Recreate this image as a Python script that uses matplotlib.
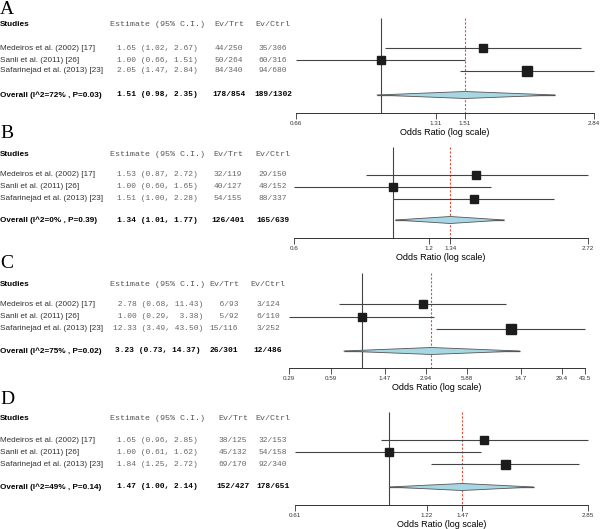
import matplotlib
matplotlib.use("Agg")
import matplotlib.pyplot as plt
from matplotlib.ticker import NullLocator

# --- data ---
studies = ["Medeiros et al. (2002) [17]", "Sanli et al. (2011) [26]", "Safarinejad et al. (2013) [23]"]

a_est = [1.65, 1.00, 2.05]
a_lo = [1.02, 0.66, 1.47]
a_hi = [2.67, 1.51, 2.84]
a_trt = ["44/250", "50/264", "84/340"]
a_ctrl = ["35/306", "60/316", "94/680"]
a_overall = [1.51, 0.98, 2.35]
a_overall_ev = ["178/854", "189/1302"]
a_het = "Overall (I^2=72% , P=0.03)"
a_ticks = [0.66, 1.31, 1.51, 2.84]

b_est = [1.53, 1.00, 1.51]
b_lo = [0.87, 0.60, 1.00]
b_hi = [2.72, 1.65, 2.28]
b_trt = ["32/119", "40/127", "54/155"]
b_ctrl = ["29/150", "48/152", "88/337"]
b_overall = [1.34, 1.01, 1.77]
b_overall_ev = ["126/401", "165/639"]
b_het = "Overall (I^2=0% , P=0.39)"
b_ticks = [0.6, 1.2, 1.34, 2.72]

c_est = [2.78, 1.00, 12.33]
c_lo = [0.68, 0.29, 3.49]
c_hi = [11.43, 3.38, 43.50]
c_trt = ["6/93", "5/92", "15/116"]
c_ctrl = ["3/124", "6/110", "3/252"]
c_overall = [3.23, 0.73, 14.37]
c_overall_ev = ["26/301", "12/486"]
c_het = "Overall (I^2=75% , P=0.02)"
c_ticks = [0.29, 0.59, 1.47, 2.94, 5.88, 14.7, 29.4, 43.5]

d_est = [1.65, 1.00, 1.84]
d_lo = [0.96, 0.61, 1.25]
d_hi = [2.85, 1.62, 2.72]
d_trt = ["38/125", "45/132", "69/170"]
d_ctrl = ["32/153", "54/158", "92/340"]
d_overall = [1.47, 1.00, 2.14]
d_overall_ev = ["152/427", "178/651"]
d_het = "Overall (I^2=49% , P=0.14)"
d_ticks = [0.61, 1.22, 1.47, 2.85]

# --- layout (pixels of a 600x529 canvas) ---
W, H = 600, 529
SANS = "Liberation Sans"
MONO = "Liberation Mono"
SERIF = "Liberation Serif"
FS_SANS = 5.9
FS_MONO = 5.7

panels = [
    dict(letter="A", est=a_est, lo=a_lo, hi=a_hi, trt=a_trt, ctrl=a_ctrl, overall=a_overall,
         overall_ev=a_overall_ev, het=a_het, ticks=a_ticks,
         letter_y=9, head_y=25, rows=[48, 60, 71], ov_y=95, top=18, axis=113,
         left=296, right=594, cols=[157, 229, 273], box=[7.7, 8.3, 10.0]),
    dict(letter="B", est=b_est, lo=b_lo, hi=b_hi, trt=b_trt, ctrl=b_ctrl, overall=b_overall,
         overall_ev=b_overall_ev, het=b_het, ticks=b_ticks,
         letter_y=134, head_y=155, rows=[175, 187, 199], ov_y=220, top=147, axis=238,
         left=294, right=588, cols=[157, 228, 273], box=[7.3, 7.7, 8.3]),
    dict(letter="C", est=c_est, lo=c_lo, hi=c_hi, trt=c_trt, ctrl=c_ctrl, overall=c_overall,
         overall_ev=c_overall_ev, het=c_het, ticks=c_ticks,
         letter_y=263, head_y=285, rows=[304, 317, 329], ov_y=351, top=273, axis=368,
         left=289, right=585, cols=[158, 224, 268], box=[8.3, 8.7, 9.3]),
    dict(letter="D", est=d_est, lo=d_lo, hi=d_hi, trt=d_trt, ctrl=d_ctrl, overall=d_overall,
         overall_ev=d_overall_ev, het=d_het, ticks=d_ticks,
         letter_y=399, head_y=418, rows=[440, 452, 464], ov_y=487, top=412, axis=505,
         left=295, right=588, cols=[157, 233, 273], box=[8.0, 8.0, 9.0]),
]

fig = plt.figure(figsize=(W / 100, H / 100), dpi=100)


def fx(x):
    return x / W


def fy(y):
    return 1 - y / H


def est_strings(est, lo, hi):
    e = [f"{v:.2f}" for v in est]
    l = [f"{v:.2f}" for v in lo]
    h = [f"{v:.2f}" for v in hi]
    we, wl, wh = max(map(len, e)), max(map(len, l)), max(map(len, h))
    return [f"{a.rjust(we)} ({b.rjust(wl)}, {c.rjust(wh)})" for a, b, c in zip(e, l, h)]


for p in panels:
    c_est_x, c_trt_x, c_ctrl_x = p["cols"]

    # --- left-hand table ---
    fig.text(fx(0), fy(p["letter_y"]), p["letter"], family=SERIF, fontsize=14,
             ha="left", va="center")
    fig.text(fx(0), fy(p["head_y"]), "Studies", family=SANS, fontsize=FS_SANS,
             weight="bold", ha="left", va="center")
    fig.text(fx(c_est_x), fy(p["head_y"]), "Estimate (95% C.I.)", family=MONO,
             fontsize=6, color="#555555", ha="center", va="center")
    fig.text(fx(c_trt_x), fy(p["head_y"]), "Ev/Trt", family=MONO,
             fontsize=6, color="#555555", ha="center", va="center")
    fig.text(fx(c_ctrl_x), fy(p["head_y"]), "Ev/Ctrl", family=MONO,
             fontsize=6, color="#555555", ha="center", va="center")

    rows_est = est_strings(p["est"], p["lo"], p["hi"])
    wt = max(map(len, p["trt"]))
    wc = max(map(len, p["ctrl"]))
    for i, y in enumerate(p["rows"]):
        fig.text(fx(0), fy(y), studies[i], family=SANS, fontsize=FS_SANS,
                 color="#333333", ha="left", va="center")
        fig.text(fx(c_est_x), fy(y), rows_est[i], family=MONO, fontsize=FS_MONO,
                 color="#666666", ha="center", va="center")
        fig.text(fx(c_trt_x), fy(y), p["trt"][i].rjust(wt), family=MONO, fontsize=FS_MONO,
                 color="#666666", ha="center", va="center")
        fig.text(fx(c_ctrl_x), fy(y), p["ctrl"][i].rjust(wc), family=MONO, fontsize=FS_MONO,
                 color="#666666", ha="center", va="center")

    ov = p["overall"]
    fig.text(fx(0), fy(p["ov_y"]), p["het"], family=SANS, fontsize=FS_SANS,
             weight="bold", ha="left", va="center")
    fig.text(fx(c_est_x), fy(p["ov_y"]), est_strings([ov[0]], [ov[1]], [ov[2]])[0],
             family=MONO, fontsize=FS_MONO, weight="bold", ha="center", va="center")
    fig.text(fx(c_trt_x), fy(p["ov_y"]), p["overall_ev"][0], family=MONO, fontsize=FS_MONO,
             weight="bold", ha="center", va="center")
    fig.text(fx(c_ctrl_x), fy(p["ov_y"]), p["overall_ev"][1], family=MONO, fontsize=FS_MONO,
             weight="bold", ha="center", va="center")

    # --- forest plot ---
    ax = fig.add_axes([fx(p["left"]), fy(p["axis"]), (p["right"] - p["left"]) / W,
                       (p["axis"] - p["top"]) / H])
    ax.patch.set_visible(False)
    ax.set_xscale("log")
    xmin, xmax = min(p["lo"]), max(p["hi"])
    ax.set_xlim(xmin, xmax)
    ax.set_ylim(p["axis"], p["top"])

    ax.vlines(1.0, p["top"], p["axis"], color="#444444", lw=0.8, clip_on=False)
    ax.vlines(ov[0], p["top"], p["axis"], color="#e0503c", lw=0.8,
              linestyles=(0, (2, 1.5)), clip_on=False)

    for i, y in enumerate(p["rows"]):
        ax.hlines(y, p["lo"][i], p["hi"][i], color="#444444", lw=0.8, clip_on=False)
        ax.plot(p["est"][i], y, "s", ms=p["box"][i] * 0.72, color="#1c1c1c",
                clip_on=False, zorder=3)

    yv = p["ov_y"]
    dh = 3.5
    ax.fill([ov[1], ov[0], ov[2], ov[0]], [yv, yv - dh, yv, yv + dh],
            facecolor="#a9d6e5", edgecolor="#555555", lw=0.6, zorder=3)
    ax.hlines(yv, ov[1], ov[2], color="#444444", lw=0.9, zorder=2)

    for side in ["top", "right", "left"]:
        ax.spines[side].set_visible(False)
    ax.spines["bottom"].set_bounds(xmin, xmax)
    ax.spines["bottom"].set_linewidth(0.7)
    ax.spines["bottom"].set_color("#333333")
    ax.set_yticks([])
    ax.set_xticks(p["ticks"])
    ax.set_xticklabels([f"{t:g}" for t in p["ticks"]])
    ax.xaxis.set_minor_locator(NullLocator())
    ax.tick_params(axis="x", length=4, width=0.6, pad=2, labelsize=4.5,
                   colors="#333333")
    for lab in ax.get_xticklabels():
        lab.set_family(SANS)
    ax.set_xlabel("Odds Ratio (log scale)", family=SANS, fontsize=6.5, labelpad=1)

fig.savefig("out.png", dpi=100)
